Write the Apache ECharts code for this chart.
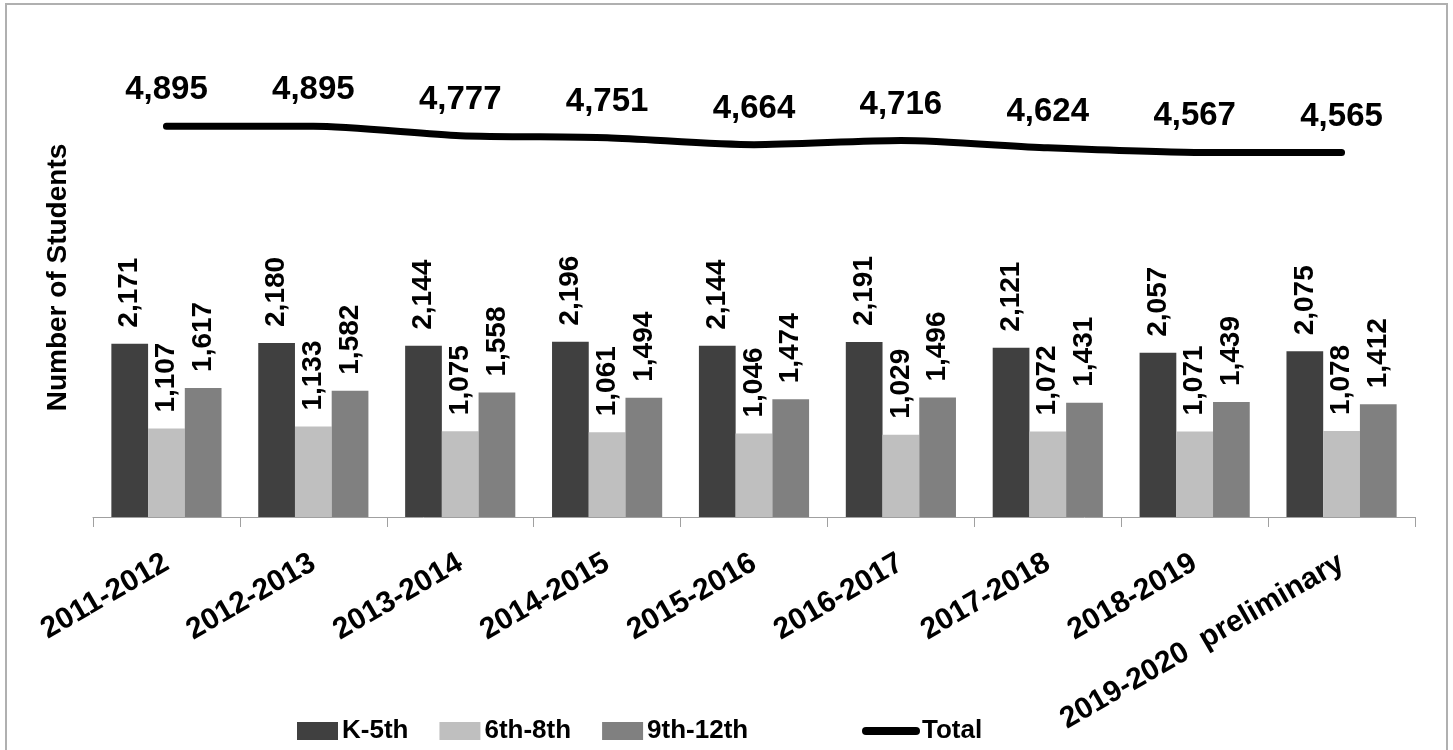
<!DOCTYPE html>
<html>
<head>
<meta charset="utf-8">
<script src="https://cdn.jsdelivr.net/npm/echarts@6/dist/echarts.min.js"></script>
<style>
html,body{margin:0;padding:0;background:#fff;}
#chart{width:1453px;height:750px;}
</style>
</head>
<body>
<div id="chart"></div>
<script>
const categories = ['2011-2012','2012-2013','2013-2014','2014-2015','2015-2016','2016-2017','2017-2018','2018-2019','2019-2020  preliminary'];
const k5 = [2171,2180,2144,2196,2144,2191,2121,2057,2075];
const g68 = [1107,1133,1075,1061,1046,1029,1072,1071,1078];
const g912 = [1617,1582,1558,1494,1474,1496,1431,1439,1412];
const total = [4895,4895,4777,4751,4664,4716,4624,4567,4565];

const FONT = 'Liberation Sans';
const fmt = p => Number(p.value).toLocaleString('en-US');

const barLabel = {
  show: true, position: 'top', rotate: 90, align: 'left', verticalAlign: 'middle',
  distance: 16, fontFamily: FONT, fontWeight: 'bold', fontSize: 28, color: '#000', formatter: fmt
};

const chart = echarts.init(document.getElementById('chart'), null, {renderer: 'canvas'});
chart.setOption({
  animation: false,
  backgroundColor: '#fff',
  textStyle: {fontFamily: FONT},
  graphic: [{
    type: 'rect', shape: {x: 6, y: 4, width: 1441, height: 760},
    style: {fill: 'none', stroke: '#b0b0b0', lineWidth: 2}, silent: true, z: -1
  }],
  grid: {left: 93, right: 38, top: 38, bottom: 233, containLabel: false},
  legend: [{
    left: 292, top: 713, itemWidth: 41, itemHeight: 18, itemGap: 31,
    icon: 'rect',
    data: ['K-5th', '6th-8th', '9th-12th'],
    textStyle: {fontFamily: FONT, fontWeight: 'bold', fontSize: 26, color: '#000', lineHeight: 26, padding: [0,0,0,-1]}
  }, {
    left: 857, top: 713, itemWidth: 58, itemHeight: 8,
    icon: 'path://M4,0 L54,0 A4,4 0 0 1 54,8 L4,8 A4,4 0 0 1 4,0 Z',
    data: ['Total'],
    textStyle: {fontFamily: FONT, fontWeight: 'bold', fontSize: 26, color: '#000', lineHeight: 26, padding: [0,0,0,-3]}
  }],
  xAxis: {
    type: 'category', data: categories,
    axisLine: {lineStyle: {color: '#a0a0a0', width: 1}},
    axisTick: {show: true, length: 10, lineStyle: {color: '#a0a0a0'}},
    axisLabel: {interval: 0, rotate: 30, margin: 44, fontFamily: FONT, fontWeight: 'bold', fontSize: 30, color: '#000'}
  },
  yAxis: {
    type: 'value', min: 0, max: 6000,
    name: 'Number of Students', nameLocation: 'middle', nameRotate: 90, nameGap: 21,
    nameTextStyle: {fontFamily: FONT, fontWeight: 'bold', fontSize: 28, color: '#000'},
    axisLine: {show: false}, axisTick: {show: false}, axisLabel: {show: false}, splitLine: {show: false}
  },
  series: [
    {name: 'K-5th', type: 'bar', data: k5, barGap: '0%', barCategoryGap: '25%',
     itemStyle: {color: '#404040'}, label: barLabel},
    {name: '6th-8th', type: 'bar', data: g68, barGap: '0%', barCategoryGap: '25%',
     itemStyle: {color: '#bfbfbf'}, label: barLabel},
    {name: '9th-12th', type: 'bar', data: g912, barGap: '0%', barCategoryGap: '25%',
     itemStyle: {color: '#808080'}, label: barLabel},
    {name: 'Total', type: 'line', data: total, smooth: 0.25, symbol: 'circle', symbolSize: 1, showSymbol: true,
     itemStyle: {color: '#000'},
     lineStyle: {color: '#000', width: 7, cap: 'round', join: 'round'},
     label: {show: true, position: 'top', distance: 19, fontFamily: FONT, fontWeight: 'bold', fontSize: 33, color: '#000', formatter: fmt},
     labelLayout: {hideOverlap: false},
     z: 5}
  ]
});
</script>
</body>
</html>
